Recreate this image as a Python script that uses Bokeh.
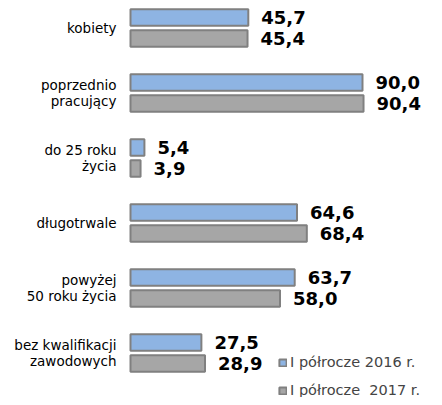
from bokeh.plotting import figure
from bokeh.models import ColumnDataSource, Range1d, Legend, LegendItem
from bokeh.core.properties import value
from bokeh.embed import file_html
from bokeh.resources import INLINE

categories = ["kobiety", "poprzednio\npracujący", "do 25 roku\nżycia", "długotrwale",
              "powyżej\n50 roku życia", "bez kwalifikacji\nzawodowych"]
series_names = ["I półrocze 2016 r.", "I półrocze  2017 r."]
values_2016 = [45.7, 90.0, 5.4, 64.6, 63.7, 27.5]
values_2017 = [45.4, 90.4, 3.9, 68.4, 58.0, 28.9]

W, H = 434, 397
PX = 232 / 90.0          # pixels per unit on x
X0 = 130                 # pixel position of zero
PITCH = 65.0             # pixels per group
Y0 = 27.5                # pixel of first group center

p = figure(width=W, height=H, output_backend="svg", toolbar_location=None,
           min_border=0, outline_line_color=None,
           x_range=Range1d(-X0 / PX, (W - X0) / PX),
           y_range=Range1d((H - Y0) / PITCH, -Y0 / PITCH))
p.axis.visible = False
p.grid.visible = False
p.background_fill_color = "white"

idx = list(range(len(categories)))
off = 10.5 / PITCH
bh = 16.5 / PITCH
fmt = lambda v: f"{v:.1f}".replace(".", ",")

s16 = ColumnDataSource(dict(y=[i - off for i in idx], v=values_2016, t=[fmt(v) for v in values_2016]))
s17 = ColumnDataSource(dict(y=[i + off for i in idx], v=values_2017, t=[fmt(v) for v in values_2017]))

r16 = p.hbar(y="y", left=0, right="v", height=bh, source=s16,
             fill_color="#8EB4E3", line_color="#808080", line_width=2)
r17 = p.hbar(y="y", left=0, right="v", height=bh, source=s17,
             fill_color="#A6A6A6", line_color="#808080", line_width=2)

FONT = "DejaVu Sans"
for src in (s16, s17):
    p.text(x="v", y="y", text="t", source=src, x_offset=13,
           text_font=value(FONT), text_font_style="bold",
           text_font_size="18px", text_baseline="middle", text_align="left",
           text_color="black")

cs = ColumnDataSource(dict(x=[0] * len(categories), y=idx, t=categories))
p.text(x="x", y="y", text="t", source=cs, x_offset=-14,
       text_font=value(FONT), text_font_size="13.5px",
       text_baseline="middle", text_align="right", text_color="black",
       text_line_height=0.98)

legend = Legend(items=[LegendItem(label=series_names[0], renderers=[r16]),
                       LegendItem(label=series_names[1], renderers=[r17])],
                location=(278, -3), orientation="vertical",
                glyph_width=9, glyph_height=9, label_standoff=3,
                label_text_font=FONT, label_text_font_size="14.5px",
                label_height=20, spacing=8, padding=0, margin=0,
                background_fill_alpha=0, border_line_color=None)
p.add_layout(legend, "center")

open("out.html", "w").write(file_html(p, INLINE))
